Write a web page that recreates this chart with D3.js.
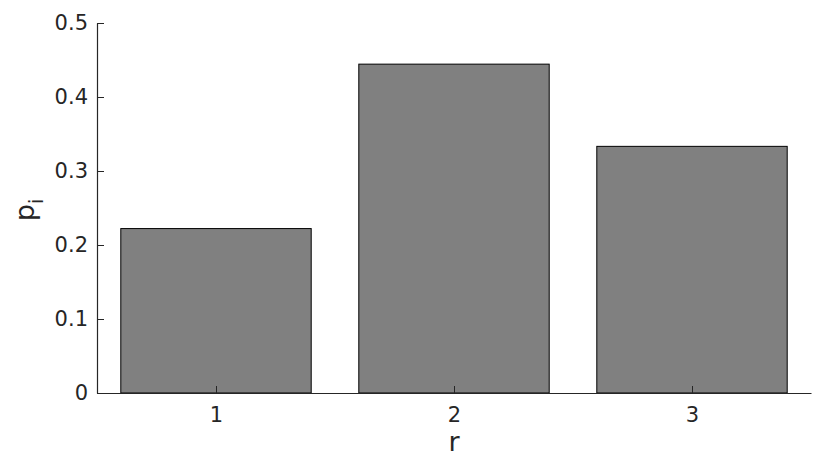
<!DOCTYPE html>
<html><head><meta charset="utf-8">
<script src="https://cdn.jsdelivr.net/npm/d3@7"></script>
<style>html,body{margin:0;padding:0;background:#fff;}svg{display:block;}</style>
</head><body>
<script>
const categories = [1, 2, 3];
const values = [0.2222, 0.4444, 0.3333];
const yTicks = [0, 0.1, 0.2, 0.3, 0.4, 0.5];
const xLabel = "r";
const yLabel = "p";
const yLabelSub = "i";

const W = 829, H = 457;
const m = {left: 97, right: 18, top: 23, bottom: 64};
const svg = d3.select("body").append("svg").attr("width", W).attr("height", H);
const x = d3.scaleLinear().domain([0.5, 3.5]).range([m.left, W - m.right]);
const y = d3.scaleLinear().domain([0, 0.5]).range([H - m.bottom, m.top]);
const bw = 0.8 * (x(2) - x(1));
const ink = "#262626";
const font = "DejaVu Sans";

svg.append("g").selectAll("rect").data(values).join("rect")
  .attr("x", (d, i) => x(categories[i]) - bw / 2)
  .attr("y", d => y(d))
  .attr("width", bw)
  .attr("height", d => y(0) - y(d))
  .attr("fill", "#808080")
  .attr("stroke", "#000")
  .attr("stroke-width", 1);

const xa = svg.append("g").attr("transform", `translate(0,${y(0)})`)
  .call(d3.axisBottom(x).tickValues(categories).tickFormat(d3.format("d")).tickSizeInner(-7).tickSizeOuter(0).tickPadding(14));
const ya = svg.append("g").attr("transform", `translate(${x.range()[0]},0)`)
  .call(d3.axisLeft(y).tickValues(yTicks).tickFormat(d => d === 0 ? "0" : d3.format(".1f")(d)).tickSizeInner(-7).tickSizeOuter(0).tickPadding(9));
[xa, ya].forEach(a => {
  a.select(".domain").attr("stroke", ink).attr("stroke-width", 1.2);
  a.selectAll(".tick line").attr("stroke", ink);
  a.selectAll(".tick text").attr("fill", ink).style("font-family", font).style("font-size", "21px");
});

svg.append("text").attr("x", (x.range()[0] + x.range()[1]) / 2).attr("y", 451)
  .attr("text-anchor", "middle").attr("fill", ink)
  .style("font-family", font).style("font-size", "27px").text(xLabel);

const yl = svg.append("text")
  .attr("transform", `translate(34,${(y(0) + y(0.5)) / 2 + 2}) rotate(-90)`)
  .attr("text-anchor", "middle").attr("fill", ink)
  .style("font-family", font).style("font-size", "27px");
yl.append("tspan").text(yLabel);
yl.append("tspan").attr("dy", 9).style("font-size", "20px").text(yLabelSub);
</script>
</body></html>
